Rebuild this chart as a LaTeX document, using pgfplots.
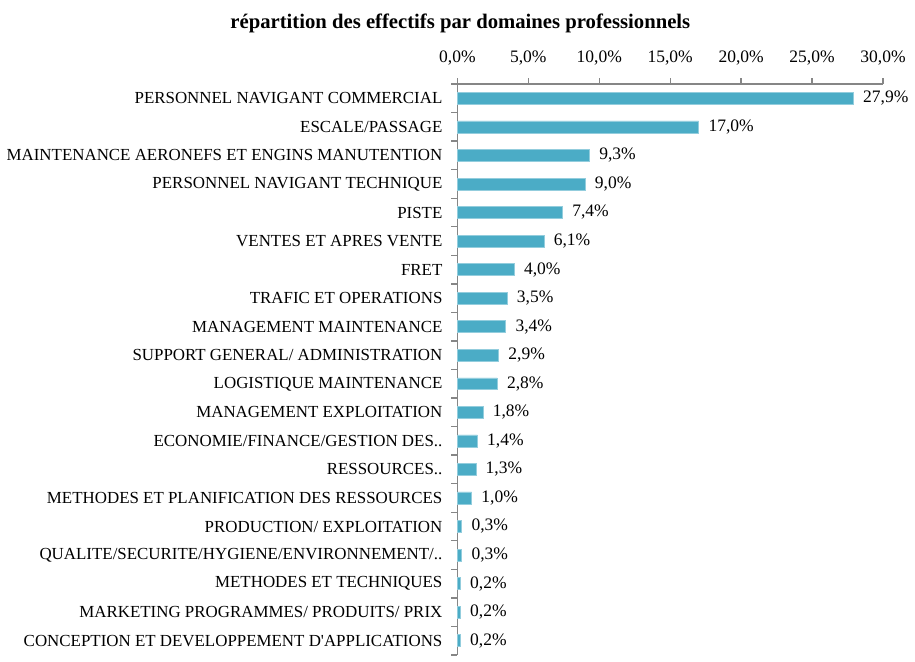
\documentclass[border=0pt]{standalone}
\usepackage{pgfplots}
\pgfplotsset{compat=1.18}
\usepackage{fontspec}
\setmainfont{Liberation Serif}
\definecolor{barc}{RGB}{75,172,198}
\definecolor{axc}{RGB}{134,134,134}
\begin{document}
\begin{tikzpicture}
\begin{axis}[
  scale only axis,
  width=214pt, height=287pt,
  xbar, bar width=6pt,
  xmin=0, xmax=30,
  ymin=-0.5, ymax=19.5,
  y dir=reverse,
  axis x line*=top,
  axis y line*=left,
  axis line style={axc, line width=0.7pt},
  xtick={0,5,...,30},
  xticklabel pos=upper,
  tick align=outside,
  x tick style={axc, line width=0.7pt},
  major tick length=3pt,
  xticklabel={\pgfmathprintnumber[fixed,fixed zerofill,precision=1,use comma]{\tick}\%},
  xticklabel style={font=\fontsize{8.8}{10}\selectfont, yshift=3pt},
  /pgf/number format/assume math mode=true,
  ytick={0,...,19},
  y tick style={draw=none},
  extra y ticks={-0.5,0.5,...,19.5},
  extra y tick labels={},
  extra y tick style={y tick style={draw=axc, line width=0.7pt}},
  yticklabels={PERSONNEL NAVIGANT COMMERCIAL, ESCALE/PASSAGE, MAINTENANCE AERONEFS ET ENGINS MANUTENTION, PERSONNEL NAVIGANT TECHNIQUE, PISTE, VENTES ET APRES VENTE, FRET, TRAFIC ET OPERATIONS, MANAGEMENT MAINTENANCE, SUPPORT GENERAL/ ADMINISTRATION, LOGISTIQUE MAINTENANCE, MANAGEMENT EXPLOITATION, ECONOMIE/FINANCE/GESTION DES.., RESSOURCES.., METHODES ET PLANIFICATION DES RESSOURCES, PRODUCTION/ EXPLOITATION, QUALITE/SECURITE/HYGIENE/ENVIRONNEMENT/.., METHODES ET TECHNIQUES, MARKETING PROGRAMMES/ PRODUITS/ PRIX, CONCEPTION ET DEVELOPPEMENT D\textquotesingle APPLICATIONS},
  yticklabel style={font=\fontsize{8.5}{10}\selectfont, xshift=-1pt},
  point meta=x,
  nodes near coords={\pgfmathprintnumber[fixed,fixed zerofill,precision=1,use comma]{\pgfplotspointmeta}\%},
  nodes near coords style={font=\fontsize{8.8}{10}\selectfont, xshift=1.5pt},
  clip=false,
]
\addplot[fill=barc, draw=barc!60!white, line width=0.3pt] coordinates {
(27.9,0) (17.0,1) (9.3,2) (9.0,3) (7.4,4) (6.1,5) (4.0,6) (3.5,7) (3.4,8) (2.9,9)
(2.8,10) (1.8,11) (1.4,12) (1.3,13) (1.0,14) (0.3,15) (0.3,16) (0.2,17) (0.2,18) (0.2,19)
};
\node[font=\bfseries\fontsize{10.4}{12}\selectfont, anchor=center, inner ysep=7pt] at (rel axis cs:0.5,1) [xshift=-105.5pt, yshift=30.5pt] {répartition des effectifs par domaines professionnels};
\end{axis}
\end{tikzpicture}
\end{document}
